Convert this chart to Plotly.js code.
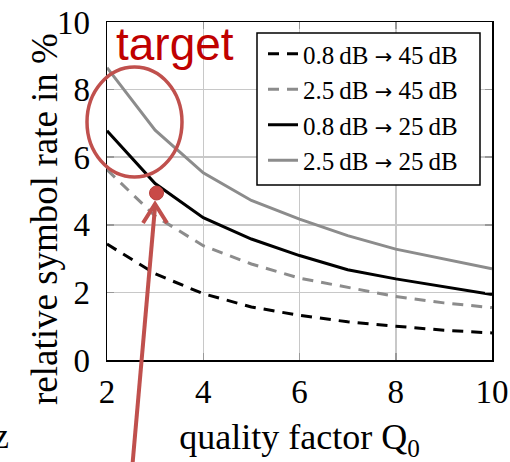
<!DOCTYPE html>
<html>
<head>
<meta charset="utf-8">
<script src="https://cdn.plot.ly/plotly-3.0.1.min.js"></script>
<style>html,body{margin:0;padding:0;background:#fff;}#chart{width:510px;height:462px;}</style>
</head>
<body>
<div id="chart"></div>
<script>
// Data
const qualityFactor = [2, 3, 4, 5, 6, 7, 8, 9, 10];
const rate_08_45 = [3.43, 2.55, 1.96, 1.57, 1.32, 1.13, 1.00, 0.88, 0.80];
const rate_25_45 = [5.63, 4.26, 3.38, 2.84, 2.42, 2.14, 1.88, 1.69, 1.55];
const rate_08_25 = [6.78, 5.22, 4.21, 3.58, 3.09, 2.67, 2.40, 2.16, 1.94];
const rate_25_25 = [8.65, 6.80, 5.54, 4.72, 4.17, 3.68, 3.28, 2.99, 2.70];
const ARROW = '<span style="font-family:DejaVu Sans;font-size:21px">\u2192</span>';
const seriesNames = [
  '0.8\u2009dB ' + ARROW + ' 45\u2009dB',
  '2.5\u2009dB ' + ARROW + ' 45\u2009dB',
  '0.8\u2009dB ' + ARROW + ' 25\u2009dB',
  '2.5\u2009dB ' + ARROW + ' 25\u2009dB'
];
const xTicks = [2, 4, 6, 8, 10];
const yTicks = [0, 2, 4, 6, 8, 10];
const xTitle = 'quality factor Q<sub>0</sub>';
const yTitle = 'relative symbol rate in %';

const L = 107, R = 18, T = 22, B = 102, W = 510, H = 462;
const PW = W - L - R, PH = H - T - B;
const px = v => (v - L) / PW;
const py = v => (H - B - v) / PH;

const serif = 'Liberation Serif, Times New Roman, serif';
const red = '#c0504d';

const traces = [
  {x: qualityFactor, y: rate_08_45, name: seriesNames[0], mode: 'lines', line: {color: '#000', width: 3, dash: '11px,8px'}},
  {x: qualityFactor, y: rate_25_45, name: seriesNames[1], mode: 'lines', line: {color: '#8c8c8c', width: 3, dash: '11px,8px'}},
  {x: qualityFactor, y: rate_08_25, name: seriesNames[2], mode: 'lines', line: {color: '#000', width: 3}},
  {x: qualityFactor, y: rate_25_25, name: seriesNames[3], mode: 'lines', line: {color: '#8c8c8c', width: 3}}
];

// arrow from bottom edge to the target dot
const tipX = 155, tipY = 204, tailX = 132, tailY = 470;

const layout = {
  width: W, height: H,
  margin: {l: L, r: R, t: T, b: B, pad: 0},
  paper_bgcolor: '#fff', plot_bgcolor: '#fff',
  font: {family: serif, color: '#000'},
  showlegend: true,
  legend: {
    x: px(263), y: py(31), xanchor: 'left', yanchor: 'top',
    bgcolor: 'rgba(0,0,0,0)', borderwidth: 0,
    font: {family: serif, size: 25, color: '#000'},
    tracegroupgap: 0
  },
  xaxis: {
    range: [2, 10], tickvals: xTicks, ticktext: xTicks.map(String),
    showgrid: true, gridcolor: '#c8c8c8', gridwidth: 1.5,
    showline: true, linecolor: '#000', linewidth: 1.5, mirror: 'ticks',
    ticks: 'inside', ticklen: 7, tickcolor: '#999', tickwidth: 1.5,
    tickfont: {family: serif, size: 33}, ticklabelstandoff: 2,
    zeroline: false, fixedrange: true,
    title: {text: xTitle, font: {family: serif, size: 36}, standoff: 16}
  },
  yaxis: {
    range: [0, 10], tickvals: yTicks, ticktext: yTicks.map(String),
    showgrid: true, gridcolor: '#c8c8c8', gridwidth: 1.5,
    showline: true, linecolor: '#000', linewidth: 1.5, mirror: 'ticks',
    ticks: 'inside', ticklen: 7, tickcolor: '#999', tickwidth: 1.5,
    tickfont: {family: serif, size: 33}, ticklabelstandoff: 9,
    zeroline: false, fixedrange: true
  },
  shapes: [
    // legend frame
    {type: 'rect', xref: 'paper', yref: 'paper', x0: px(257), x1: px(480), y0: py(185), y1: py(33),
     line: {color: '#000', width: 1.5}, fillcolor: '#fff', layer: 'above'},
    {type: 'circle', xref: 'paper', yref: 'paper', x0: px(87), x1: px(182), y0: py(177), y1: py(67),
     line: {color: red, width: 3.5}, fillcolor: 'rgba(0,0,0,0)', layer: 'above'},
    {type: 'line', xref: 'paper', yref: 'paper', x0: px(tailX), y0: py(tailY), x1: px(tipX), y1: py(tipY + 3),
     line: {color: red, width: 4}, layer: 'above'},
    {type: 'path', xref: 'paper', yref: 'paper',
     path: 'M' + px(tipX - 12) + ',' + py(tipY + 19) + ' L' + px(tipX) + ',' + py(tipY) + ' L' + px(tipX + 12) + ',' + py(tipY + 19),
     line: {color: red, width: 4}, fillcolor: 'rgba(0,0,0,0)', layer: 'above'},
    {type: 'circle', xref: 'paper', yref: 'paper', x0: px(149.5), x1: px(163.5), y0: py(200), y1: py(186),
     line: {color: '#b8403d', width: 1}, fillcolor: '#c94a47', layer: 'above'}
  ],
  annotations: [
    {text: yTitle, xref: 'paper', yref: 'paper', x: px(44), y: py(219), xanchor: 'center', yanchor: 'middle',
     textangle: -90, showarrow: false, font: {family: serif, size: 37, color: '#000'}},
    {text: 'target', xref: 'paper', yref: 'paper', x: px(114), y: py(44), xanchor: 'left', yanchor: 'middle',
     showarrow: false, font: {family: 'Liberation Sans, Arial, sans-serif', size: 46, color: '#c00000'}},
    {text: 'z', xref: 'paper', yref: 'paper', x: px(1), y: py(436), xanchor: 'center', yanchor: 'middle',
     showarrow: false, font: {family: serif, size: 36, color: '#000'}}
  ]
};

Plotly.newPlot('chart', traces, layout, {displayModeBar: false, staticPlot: true});
</script>
</body>
</html>
